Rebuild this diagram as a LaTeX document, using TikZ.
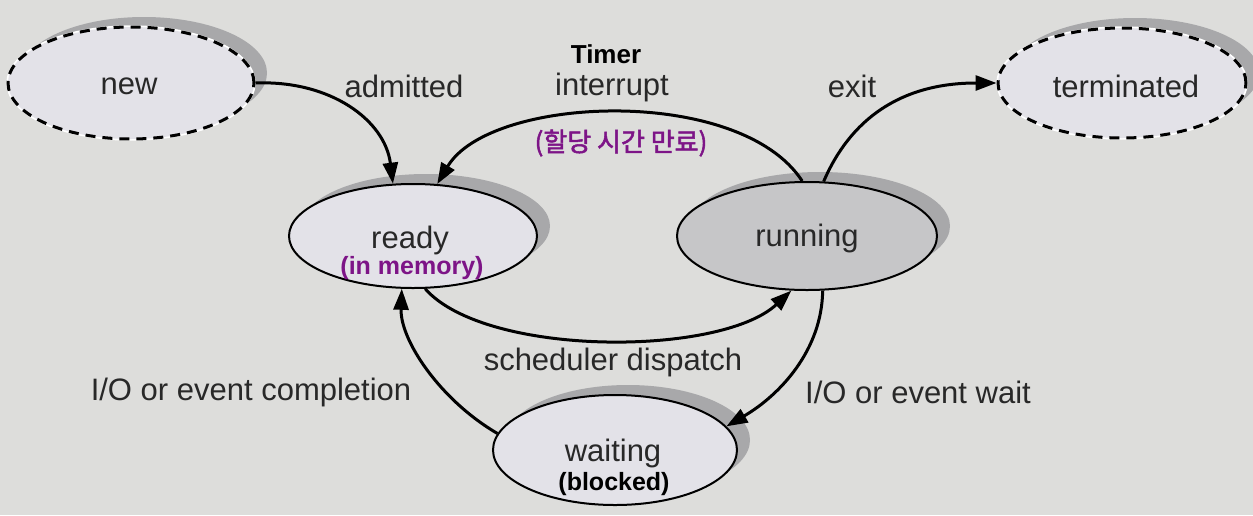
\documentclass[tikz,border=0pt]{standalone}
\usepackage{fontspec}
\setmainfont{Liberation Sans}
\newfontfamily\kr[AutoFakeBold=2]{Noto Sans CJK KR}
\usetikzlibrary{shapes.geometric,arrows.meta,shadows}
\definecolor{bg}{RGB}{221,221,219}
\definecolor{st}{RGB}{227,226,232}
\definecolor{run}{RGB}{198,198,200}
\definecolor{shd}{RGB}{168,168,170}
\definecolor{pur}{RGB}{125,20,135}
\definecolor{txt}{RGB}{40,40,40}
\begin{document}
\begin{tikzpicture}[x=1pt,y=-1pt,
  state/.style={ellipse, draw=black, line width=2pt, fill=st, inner sep=0pt,
    drop shadow={shadow xshift=13pt, shadow yshift=10pt, fill=shd, opacity=1}},
  dstate/.style={state, line width=3pt, dash pattern=on 10pt off 7pt,
    preaction={draw=white, solid, line width=3.4pt}},
  lbl/.style={font=\fontsize{31}{36}\selectfont, text=txt, inner sep=0pt},
  sub/.style={font=\fontsize{25}{30}\selectfont\bfseries, inner sep=0pt},
  arr/.style={-{Triangle[length=21pt,width=15pt]}, line width=3pt}]
\path[fill=bg] (0,0) rectangle (1253,515);

\node[dstate, minimum width=246pt, minimum height=112pt] (new) at (131,83) {};
\node[dstate, minimum width=248pt, minimum height=110pt] (terminated) at (1122,83) {};
\node[state, minimum width=248pt, minimum height=104pt] (ready) at (413,236) {};
\node[state, fill=run, minimum width=260pt, minimum height=108pt] (running) at (807,236) {};
\node[state, minimum width=244pt, minimum height=110pt] (waiting) at (615,450) {};

\node[lbl] (tnew) at (129,86) {new};
\node[lbl] (tterm) at (1126,86) {terminated};
\node[lbl] (tready) at (410,240) {ready};
\node[sub, text=pur] (tmem) at (412,268) {(in memory)};
\node[lbl] (trun) at (807,238) {running};
\node[lbl] (twait) at (613,453) {waiting};
\node[sub, text=black] (tblk) at (614,484) {(blocked)};

\node[lbl] (ladm) at (404,86) {admitted};
\node[font=\fontsize{26}{30}\selectfont\bfseries, text=black, inner sep=0pt] (ltimer) at (606,54) {Timer};
\node[lbl] (lint) at (612,87) {interrupt};
\node[font=\kr\fontsize{26}{30}\selectfont\bfseries, text=pur, inner sep=0pt] (lkr) at (621,143) {(할당 시간 만료)};
\node[lbl] (lexit) at (852,86) {exit};
\node[lbl] (lsch) at (613,362) {scheduler dispatch};
\node[lbl] (lcomp) at (251,392) {I/O or event completion};
\node[lbl] (lwait) at (918,392) {I/O or event wait};

\draw[arr] (new.east) .. controls (330,80) and (385,120) .. (ready.111);
\draw[arr] (running.95) .. controls (740,85) and (490,95) .. (ready.65);
\draw[arr] (running.73) .. controls (850,120) and (900,83) .. (terminated.west);
\draw[arr] (ready.283) .. controls (485,357) and (720,357) .. (running.254);
\draw[arr] (running.286) .. controls (822,350) and (780,395) .. (waiting.12);
\draw[arr] (waiting.172) .. controls (440,400) and (400,340) .. (ready.258);
\end{tikzpicture}
\end{document}
